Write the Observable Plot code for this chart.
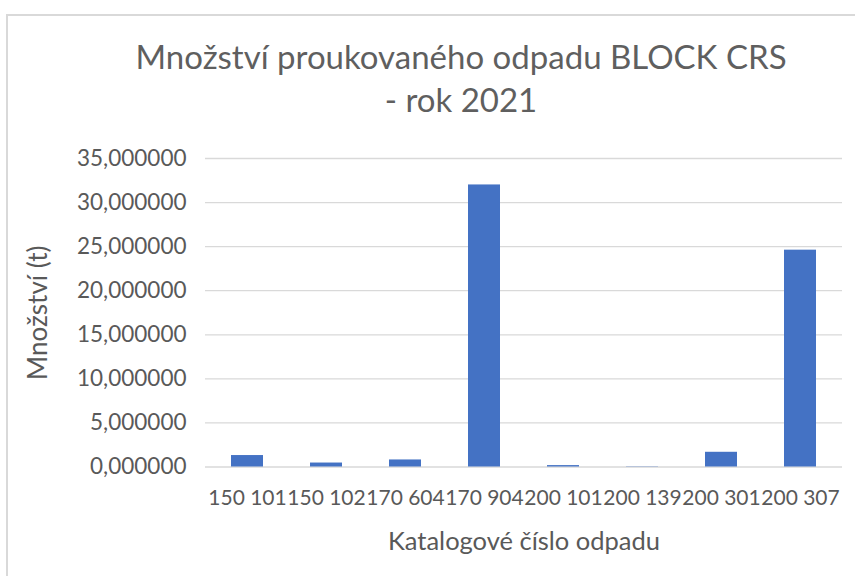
<!DOCTYPE html>
<html>
<head>
<meta charset="utf-8">
<script src="https://cdn.jsdelivr.net/npm/d3@7"></script>
<script src="https://cdn.jsdelivr.net/npm/@observablehq/plot@0.6"></script>
<style>
  html, body { margin: 0; padding: 0; background: #fff; overflow: hidden; }
  #wrap { position: relative; width: 855px; height: 576px; font-family: Lato, "Open Sans", sans-serif; color: #595959; }
  #frame { position: absolute; left: 6px; top: 14px; width: 900px; height: 620px; border-left: 2px solid #d9d9d9; border-top: 2px solid #d9d9d9; }
  #title { position: absolute; left: 67px; width: 788px; top: 35px; text-align: center; font-size: 33px; line-height: 43px; font-weight: 400; color: #5f5f5f; }
  #chart { position: absolute; left: 0; top: 130px; }
</style>
</head>
<body>
<div id="wrap">
  <div id="frame"></div>
  <div id="title">Množství proukovaného odpadu BLOCK CRS<br>- rok 2021</div>
  <div id="chart"></div>
</div>
<script>
const categories = ["150 101", "150 102", "170 604", "170 904", "200 101", "200 139", "200 301", "200 307"];
const values = [1.30, 0.45, 0.80, 32.0, 0.16, 0.03, 1.67, 24.6];
const yTicks = [0, 5, 10, 15, 20, 25, 30, 35];
const xTitle = "Katalogové číslo odpadu";
const yTitle = "Množství (t)";

const data = categories.map((c, i) => ({ kod: c, mnozstvi: values[i] }));
const fmt = d => d.toFixed(6).replace(".", ",");

const chart = Plot.plot({
  width: 855,
  height: 446,
  marginTop: 28,
  marginBottom: 109.5,
  marginLeft: 205,
  marginRight: 13,
  style: { fontFamily: "Lato, 'Open Sans', sans-serif", fontSize: "21px", color: "#595959", background: "transparent" },
  x: { domain: categories, paddingInner: 0.6, paddingOuter: 0.3, label: null },
  y: { domain: [0, 35], label: null },
  marks: [
    Plot.ruleY(yTicks, { stroke: "#d9d9d9", strokeWidth: 1.3 }),
    Plot.barY(data, { x: "kod", y: "mnozstvi", fill: "#4472c4" }),
    Plot.axisX({ tickSize: 0, tickPadding: 23, label: null, fontSize: 21 }),
    Plot.axisY({ ticks: yTicks, tickSize: 0, tickPadding: 19, tickFormat: fmt, label: null, fontSize: 22.5 }),
    Plot.text([xTitle], { text: d => d, frameAnchor: "bottom", dy: 74.5, fontSize: 25.5, lineAnchor: "middle", fill: "#595959" }),
    Plot.text([yTitle], { text: d => d, frameAnchor: "left", dx: -167, rotate: -90, fontSize: 26, lineAnchor: "middle", textAnchor: "middle", fill: "#595959" })
  ]
});
document.getElementById("chart").appendChild(chart);
</script>
</body>
</html>
